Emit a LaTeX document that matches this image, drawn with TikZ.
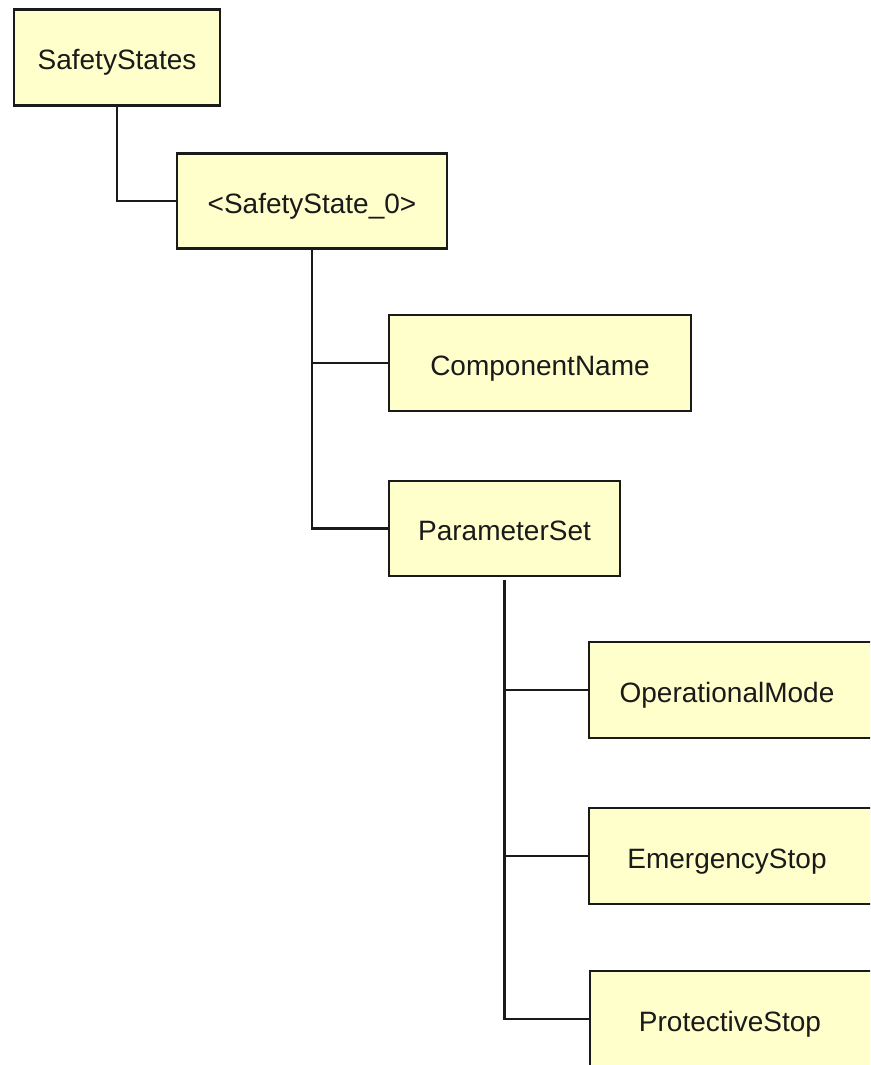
\documentclass[tikz,border=0pt]{standalone}
\usepackage{fontspec}
\setmainfont{Liberation Sans}
\definecolor{boxfill}{RGB}{255,255,204}
\definecolor{ink}{RGB}{26,26,26}
\begin{document}
\begin{tikzpicture}[x=1pt,y=-1pt,
  treebox/.style={draw=ink, fill=boxfill, line width=2.2pt, rectangle,
    inner sep=0pt, text height=28pt, text depth=4pt, text=ink,
    font=\fontsize{28}{32}\selectfont},
  link/.style={draw=ink, line width=2.2pt}]
\useasboundingbox (0,0) rectangle (870,1065);
\clip (0,0) rectangle (870,1065);
\fill[white] (0,0) rectangle (870,1065);

% tree nodes
\node[treebox, minimum width=206pt, minimum height=96pt] (ss) at (117,57.5) {SafetyStates};
\node[treebox, minimum width=270pt, minimum height=95pt] (s0) at (312,201) {<SafetyState\_0>};
\node[treebox, minimum width=302pt, minimum height=96pt] (cn) at (540,363) {ComponentName};
\node[treebox, minimum width=231pt, minimum height=95pt] (ps) at (504.5,528.5) {ParameterSet};
\node[treebox, minimum width=290pt, minimum height=96pt] (om) at (734,690) {OperationalMode\hspace*{14pt}};
\node[treebox, minimum width=290pt, minimum height=96pt] (es) at (734,856) {EmergencyStop\hspace*{14pt}};
\node[treebox, minimum width=290pt, minimum height=96pt] (pt) at (735,1019) {ProtectiveStop\hspace*{10pt}};

% elbow connectors from parent to children
\draw[link] (ss.south) |- (s0.west);
\draw[link] (s0.south) |- (cn.west);
\draw[link] (s0.south) |- (ps.west);
\draw[link] ([yshift=-3pt]ps.south) |- (om.west);
\draw[link] ([yshift=-3pt]ps.south) |- (es.west);
\draw[link] ([yshift=-3pt]ps.south) |- (pt.west);
\end{tikzpicture}
\end{document}
